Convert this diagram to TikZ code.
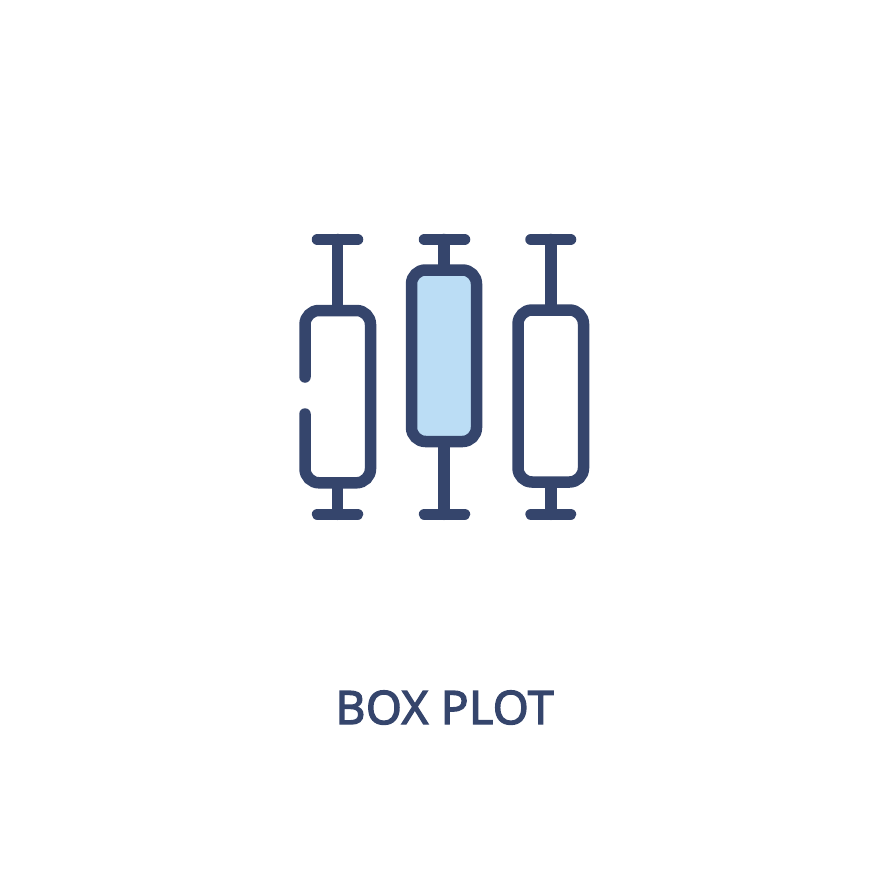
\documentclass[tikz,border=0pt]{standalone}
\usepackage{fontspec}
\setmainfont{Open Sans}[RawFeature={embolden=3.2}, LetterSpace=1.5]
\usepackage{xcolor}
\definecolor{plotblue}{HTML}{35456C}
\definecolor{plotfill}{HTML}{BBDDF5}
\tikzset{
	plotline/.style={draw=plotblue, line width=11.5pt, line cap=round},
	plotbox/.style={plotline, rounded corners=14pt}
}

\begin{document}
\begin{tikzpicture}[x=1pt, y=-1pt]
		\useasboundingbox (0, 0) rectangle (877, 877);

		% left box, open on its left side
		\draw [plotline] (317.5, 239.5) -- (357.5, 239.5);
		\draw [plotline] (337.7, 239.5) -- (337.7, 307);
		\draw [plotbox] (305, 377) -- (305, 310.5) -- (370.5, 310.5) -- (370.5, 482.8) -- (305, 482.8) -- (305, 414);
		\draw [plotline] (337.7, 486) -- (337.7, 514.3);
		\draw [plotline] (317.5, 514.3) -- (357.5, 514.3);

		% middle box
		\draw [plotline] (424.5, 239.5) -- (464.5, 239.5);
		\draw [plotline] (444, 239.5) -- (444, 267);
		\draw [plotbox, fill=plotfill] (411.5, 270) rectangle (476.5, 441.5);
		\draw [plotline] (444, 445) -- (444, 514.3);
		\draw [plotline] (424.5, 514.3) -- (464.5, 514.3);

		% right box
		\draw [plotline] (531, 239.5) -- (570.5, 239.5);
		\draw [plotline] (550.8, 239.5) -- (550.8, 307);
		\draw [plotbox] (518, 310) rectangle (583.5, 482);
		\draw [plotline] (550.8, 485) -- (550.8, 514.3);
		\draw [plotline] (531, 514.3) -- (570.5, 514.3);

		\node (title) [text=plotblue, font=\fontsize{46}{46}\selectfont, inner sep=0pt, anchor=base] at (444.5, 724) {BOX PLOT};
	\end{tikzpicture}
\end{document}
